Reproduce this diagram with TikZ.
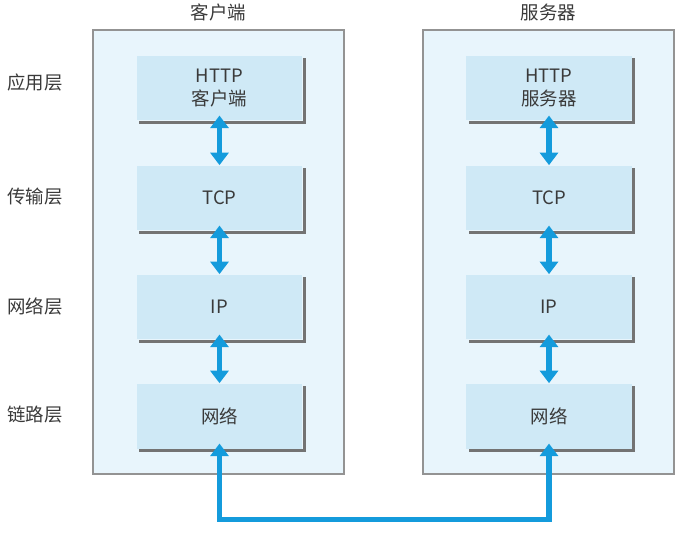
\documentclass[tikz,border=0pt]{standalone}
\usepackage{fontspec}
\setmainfont{Noto Sans CJK SC}
\usepackage{tikz}
\usetikzlibrary{arrows.meta,positioning}

\definecolor{panelfill}{HTML}{E8F5FC}
\definecolor{boxfill}{HTML}{CFE9F6}
\definecolor{linkblue}{HTML}{149BDC}
\definecolor{textgray}{HTML}{3A3A3A}

\begin{document}
\begin{tikzpicture}[x=0.02cm, y=-0.02cm,
		      every node/.style={text=textgray, font=\fontsize{10.5}{13.5}\selectfont},
		      panel/.style={rectangle, draw=gray!85, line width=0.9pt, fill=panelfill,
				      minimum width=5.02cm, minimum height=8.88cm, inner sep=0pt},
		      layerbox/.style={rectangle, fill=boxfill, align=center,
				      minimum width=3.32cm, minimum height=1.3cm, inner sep=0pt},
		      shadow/.style={draw=gray!90!black, line width=0.06cm},
		      link/.style={draw=linkblue, line width=0.11cm,
				      {Triangle[length=0.25cm, width=0.36cm]}-{Triangle[length=0.25cm, width=0.36cm]}},
		      layername/.style={anchor=west}]
		      \useasboundingbox (0,0) rectangle (678,544);
		      % panels
		      \node[panel] (cpanel) at (218.5,252) {};
		      \node[panel] (spanel) at (548.5,252) {};
		      \node (ctitle) at (218.5,12) {客户端};
		      \node (stitle) at (548.5,12) {服务器};
		      % layer names
		      \node[layername] (app) at (1,82) {应用层};
		      \node[layername] (trans) at (1,197) {传输层};
		      \node[layername] (net) at (1,306) {网络层};
		      \node[layername] (link) at (1,415) {链路层};
		      % client stack
		      \node[layerbox] (chttp) at (219.5,88) {HTTP\\客户端};
		      \node[layerbox] (ctcp) at (219.5,198) {TCP};
		      \node[layerbox] (cip) at (219.5,307) {IP};
		      \node[layerbox] (cnet) at (219.5,416) {网络};
		      % server stack
		      \node[layerbox] (shttp) at (549,88) {HTTP\\服务器};
		      \node[layerbox] (stcp) at (549,198) {TCP};
		      \node[layerbox] (sip) at (549,307) {IP};
		      \node[layerbox] (snet) at (549,416) {网络};
		      % shadows
		      \foreach \b in {chttp,ctcp,cip,cnet,shttp,stcp,sip,snet} {
			      \draw[shadow] ([shift={(1.5,3)}]\b.north east) -- ([shift={(1.5,1.5)}]\b.south east)
				      -- ([shift={(3,1.5)}]\b.south west);
		      }
		      % connectors
		      \draw[link] ([yshift=3]chttp.south) -- (ctcp.north);
		      \draw[link] ([yshift=3]ctcp.south) -- (cip.north);
		      \draw[link] ([yshift=3]cip.south) -- (cnet.north);
		      \draw[link] ([yshift=3]shttp.south) -- (stcp.north);
		      \draw[link] ([yshift=3]stcp.south) -- (sip.north);
		      \draw[link] ([yshift=3]sip.south) -- (snet.north);
		      \draw[link] ([yshift=3]cnet.south) -- ++(0,76) -| ([yshift=3]snet.south);
	      \end{tikzpicture}
\end{document}
